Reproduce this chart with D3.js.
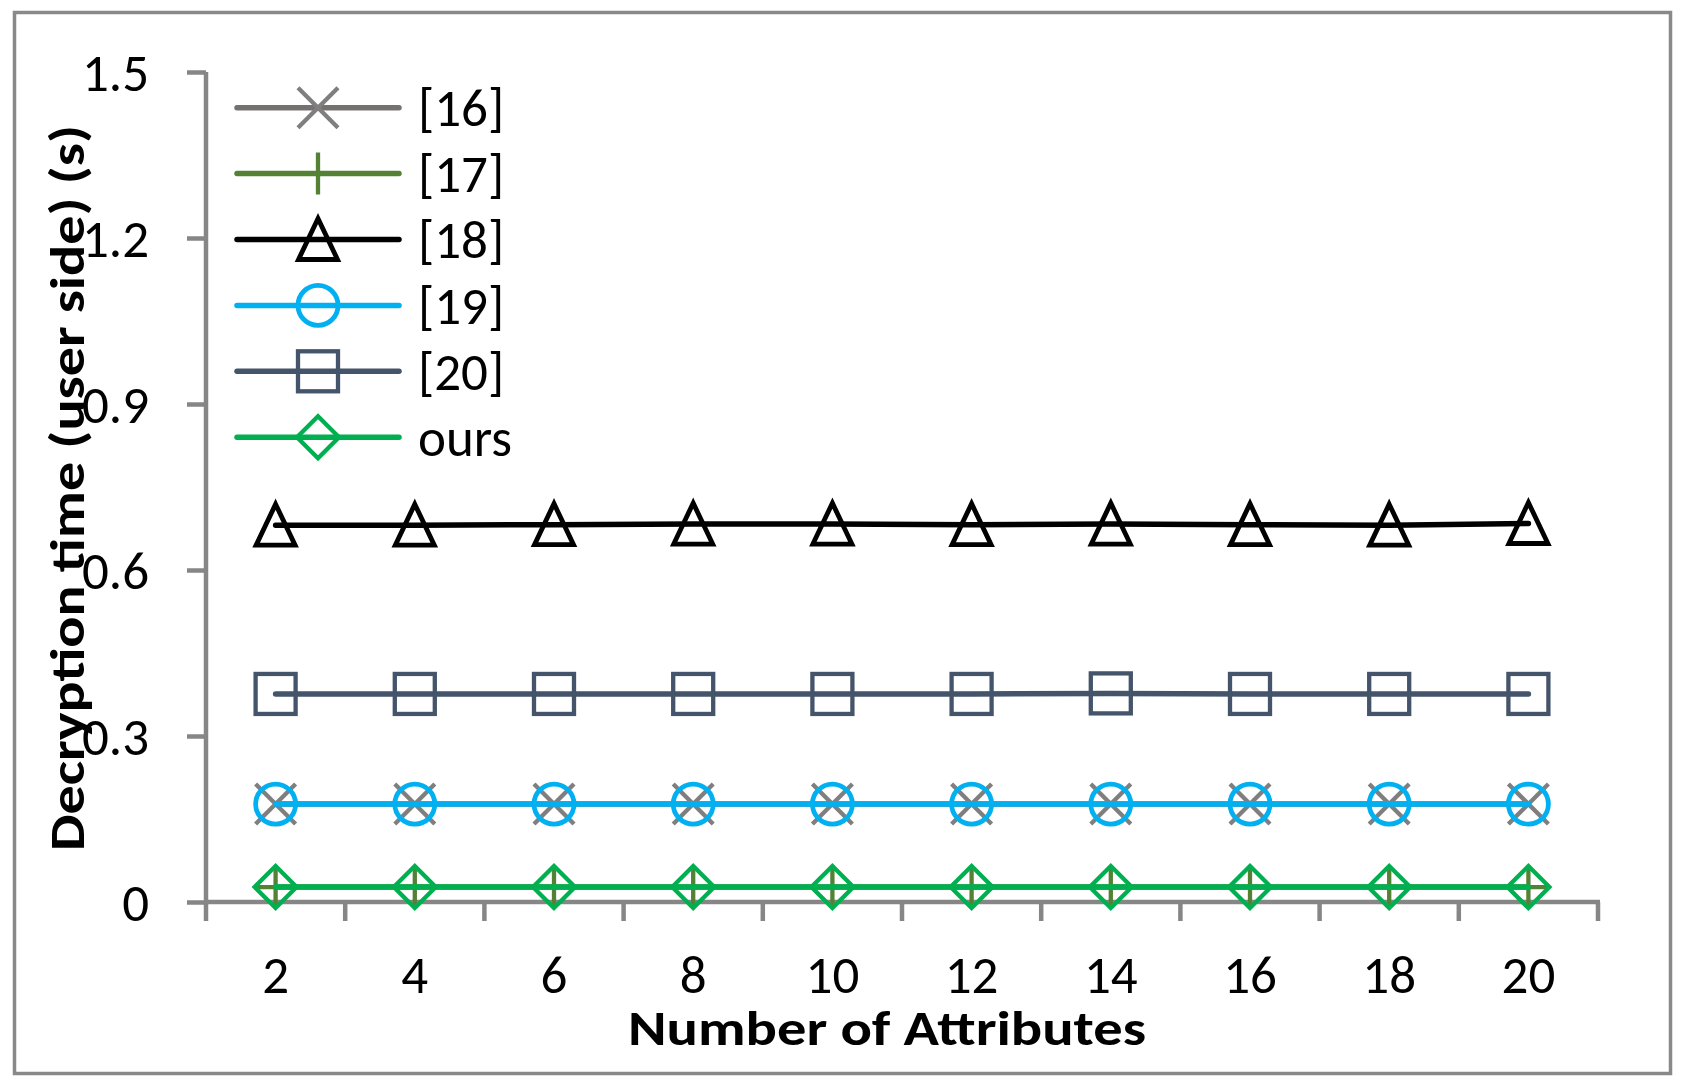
<!DOCTYPE html>
<html>
<head>
<meta charset="utf-8">
<script src="https://cdn.jsdelivr.net/npm/d3@7"></script>
<style>
  html, body { margin: 0; padding: 0; background: #fff; }
  svg { display: block; }
</style>
</head>
<body>
<div id="chart"></div>
<script>
// ---- Data ----
const categories = ["2", "4", "6", "8", "10", "12", "14", "16", "18", "20"];
const seriesNames = ["[16]", "[17]", "[18]", "[19]", "[20]", "ours"];
const values16 = [0.177, 0.177, 0.177, 0.177, 0.177, 0.177, 0.177, 0.177, 0.177, 0.177];
const values17 = [0.027, 0.027, 0.027, 0.027, 0.027, 0.027, 0.027, 0.027, 0.027, 0.027];
const values18 = [0.681, 0.681, 0.682, 0.683, 0.683, 0.682, 0.683, 0.682, 0.681, 0.684];
const values19 = [0.177, 0.177, 0.177, 0.177, 0.177, 0.177, 0.177, 0.177, 0.177, 0.177];
const values20 = [0.376, 0.376, 0.376, 0.376, 0.376, 0.376, 0.377, 0.376, 0.376, 0.376];
const valuesOurs = [0.027, 0.027, 0.027, 0.027, 0.027, 0.027, 0.027, 0.027, 0.027, 0.027];
const yTicks = [0, 0.3, 0.6, 0.9, 1.2, 1.5];
const yTickLabels = ["0", "0.3", "0.6", "0.9", "1.2", "1.5"];
const xTitle = "Number of Attributes";
const yTitle = "Decryption time (user side) (s)";

const series = [
  { name: seriesNames[0], values: values16, line: "#767171", markColor: "#7f7f7f", marker: "x" },
  { name: seriesNames[1], values: values17, line: "#548235", markColor: "#548235", marker: "plus" },
  { name: seriesNames[2], values: values18, line: "#000000", markColor: "#000000", marker: "triangle" },
  { name: seriesNames[3], values: values19, line: "#00b0f0", markColor: "#00b0f0", marker: "circle" },
  { name: seriesNames[4], values: values20, line: "#44546a", markColor: "#44546a", marker: "square" },
  { name: seriesNames[5], values: valuesOurs, line: "#00b050", markColor: "#00b050", marker: "diamond" }
];

// ---- Layout ----
const W = 1689, H = 1089;
const FONT = "Carlito, Calibri, Lato, 'Open Sans', sans-serif";
const axisColor = "#868686";
const LW = 5.5;

const svg = d3.select("#chart").append("svg")
  .attr("width", W).attr("height", H)
  .style("font-family", FONT);

svg.append("rect").attr("x", 0).attr("y", 0).attr("width", W).attr("height", H).attr("fill", "#fff");
svg.append("rect")
  .attr("x", 14.5).attr("y", 12.5).attr("width", 1656).attr("height", 1061)
  .attr("fill", "none").attr("stroke", "#898989").attr("stroke-width", 3.5);

const x = d3.scaleBand().domain(categories).range([206, 1598]).padding(0);
const y = d3.scaleLinear().domain([0, 1.5]).range([902, 72]);
const cx = c => x(c) + x.bandwidth() / 2;

// Y axis
const yAxis = svg.append("g").attr("transform", "translate(206,0)")
  .call(d3.axisLeft(y).tickValues(yTicks).tickSize(19).tickPadding(38)
    .tickFormat((d, i) => yTickLabels[i]));
yAxis.select(".domain").attr("stroke", axisColor).attr("stroke-width", 4.5)
  .attr("d", `M0,${y(1.5)}V${y(0)}`);
yAxis.selectAll(".tick line").attr("stroke", axisColor).attr("stroke-width", 4.5);
yAxis.selectAll(".tick text").attr("fill", "#000").attr("font-size", 53)
  .attr("font-family", FONT).attr("dy", "0.35em");

// X axis
const xAxis = svg.append("g").attr("transform", "translate(0,902)")
  .call(d3.axisBottom(x).tickSize(0).tickPadding(0));
xAxis.select(".domain").attr("stroke", axisColor).attr("stroke-width", 4.5)
  .attr("d", `M${x.range()[0] - 2},0H${x.range()[1] + 2}`);
xAxis.selectAll(".tick text").attr("fill", "#000").attr("font-size", 53)
  .attr("font-family", FONT).attr("y", 91).attr("dy", 0);
const edges = categories.map(c => x(c)).concat([x.range()[1]]);
xAxis.selectAll("line.edge").data(edges).enter().append("line")
  .attr("class", "edge")
  .attr("x1", d => d).attr("x2", d => d).attr("y1", 0).attr("y2", 19)
  .attr("stroke", axisColor).attr("stroke-width", 4.5);

// Titles
svg.append("text").attr("x", 887).attr("y", 1045).attr("text-anchor", "middle")
  .attr("font-size", 49).attr("font-weight", "bold").attr("fill", "#000")
  .attr("textLength", 518).attr("lengthAdjust", "spacingAndGlyphs").text(xTitle);
svg.append("text").attr("transform", "translate(84,488) rotate(-90)")
  .attr("text-anchor", "middle")
  .attr("font-size", 49).attr("font-weight", "bold").attr("fill", "#000")
  .attr("textLength", 726).attr("lengthAdjust", "spacingAndGlyphs").text(yTitle);

// Markers
function drawMarker(g, type, color) {
  const sw = 4.3;
  if (type === "x") {
    g.append("path").attr("d", "M-20,-20L20,20M-20,20L20,-20")
      .attr("stroke", color).attr("stroke-width", sw).attr("fill", "none");
  } else if (type === "plus") {
    g.append("path").attr("d", "M0,-21V21M-21,0H21")
      .attr("stroke", color).attr("stroke-width", sw).attr("fill", "none");
  } else if (type === "triangle") {
    g.append("path").attr("d", "M0,-21L19.5,20H-19.5Z")
      .attr("stroke", color).attr("stroke-width", sw + 0.5).attr("fill", "none")
      .attr("stroke-linejoin", "miter");
  } else if (type === "circle") {
    g.append("circle").attr("r", 20)
      .attr("stroke", color).attr("stroke-width", sw + 0.5).attr("fill", "none");
  } else if (type === "square") {
    g.append("rect").attr("x", -20).attr("y", -20).attr("width", 40).attr("height", 40)
      .attr("stroke", color).attr("stroke-width", sw).attr("fill", "none");
  } else if (type === "diamond") {
    g.append("path").attr("d", "M0,-21L21,0L0,21L-21,0Z")
      .attr("stroke", color).attr("stroke-width", sw).attr("fill", "none")
      .attr("stroke-linejoin", "miter");
  }
}

const line = d3.line().x((d, i) => cx(categories[i])).y(d => y(d));
const plot = svg.append("g");
series.forEach(s => {
  const g = plot.append("g");
  g.append("path").datum(s.values).attr("d", line)
    .attr("fill", "none").attr("stroke", s.line).attr("stroke-width", LW)
    .attr("stroke-linecap", "round").attr("stroke-linejoin", "round");
  s.values.forEach((v, i) => {
    const mg = g.append("g").attr("transform", `translate(${cx(categories[i])},${y(v)})`);
    drawMarker(mg, s.marker, s.markColor);
  });
});

// Legend
const legend = svg.append("g");
series.forEach((s, i) => {
  const ly = 107.7 + i * 65.9;
  const g = legend.append("g").attr("transform", `translate(0,${ly})`);
  g.append("line").attr("x1", 237).attr("x2", 399).attr("y1", 0).attr("y2", 0)
    .attr("stroke", s.line).attr("stroke-width", LW).attr("stroke-linecap", "round");
  const mg = g.append("g").attr("transform", "translate(318,0)");
  drawMarker(mg, s.marker, s.markColor);
  g.append("text").attr("x", 418).attr("y", 0).attr("dy", "0.35em")
    .attr("font-size", 53).attr("fill", "#000").text(s.name);
});
</script>
</body>
</html>
